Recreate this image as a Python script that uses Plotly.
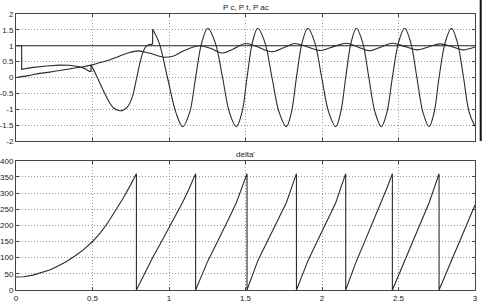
import plotly.graph_objects as go

# ---------------- data ----------------
# constant reference power (top panel)
t_const = [0.0, 3.0]
p_const = [1.0, 1.0]

# P ac : pre-fault / fault part (step, then small curve)
t_pac_a = [0.0, 0.037, 0.037, 0.10, 0.20, 0.285, 0.35, 0.416, 0.45, 0.48, 0.49, 0.49]
p_pac_a = [1.0, 1.0, 0.26, 0.31, 0.36, 0.39, 0.385, 0.34, 0.28, 0.19, 0.19, 0.39]

# P ac : after first switching (0.49 .. 0.893)
t_pac_b = [0.49, 0.52, 0.55, 0.58, 0.61, 0.64, 0.67, 0.70, 0.73, 0.76, 0.787,
           0.81, 0.83, 0.85, 0.87, 0.893]
p_pac_b = [0.39, 0.12, -0.20, -0.50, -0.78, -0.97, -1.04, -1.03, -0.92, -0.62, -0.05,
           0.45, 0.80, 0.98, 1.03, 1.05]

# P ac : large swings after 0.893
t_pac_c = [0.893, 0.935, 0.99, 1.045, 1.09, 1.135, 1.174,
           1.214, 1.254, 1.302, 1.35, 1.395, 1.44, 1.477, 1.51,
           1.545, 1.58, 1.627, 1.673, 1.72, 1.767, 1.80, 1.833,
           1.87, 1.908, 1.953, 1.998, 2.044, 2.09, 2.122, 2.155,
           2.19, 2.225, 2.266, 2.306, 2.347, 2.388, 2.424, 2.46,
           2.50, 2.54, 2.58, 2.62, 2.66, 2.70, 2.733, 2.765,
           2.805, 2.846, 2.885, 2.925, 2.962, 3.0]
p_pac_c = [1.52, 1.10, 0.0, -1.10, -1.55, -1.10, 0.0,
           1.10, 1.55, 1.10, 0.0, -1.10, -1.55, -1.10, 0.0,
           1.10, 1.55, 1.10, 0.0, -1.10, -1.55, -1.10, 0.0,
           1.10, 1.55, 1.10, 0.0, -1.10, -1.55, -1.10, 0.0,
           1.10, 1.55, 1.10, 0.0, -1.10, -1.55, -1.10, 0.0,
           1.10, 1.55, 1.10, 0.0, -1.10, -1.55, -1.10, 0.0,
           1.10, 1.55, 1.10, 0.0, -1.10, -1.54]

# P t : slowly oscillating power
t_pt = [0.0, 0.08, 0.155, 0.22, 0.285, 0.36, 0.44, 0.49, 0.55, 0.61, 0.67, 0.73,
        0.80, 0.87, 0.93, 0.975, 1.03, 1.10, 1.20, 1.27, 1.35, 1.42, 1.50, 1.58,
        1.67, 1.75, 1.82, 1.90, 1.99, 2.08, 2.16, 2.23, 2.31, 2.39, 2.46, 2.54,
        2.62, 2.70, 2.77, 2.85, 2.92, 3.0]
p_pt = [0.0, 0.06, 0.13, 0.17, 0.22, 0.28, 0.34, 0.39, 0.47, 0.55, 0.66, 0.77,
        0.84, 0.77, 0.68, 0.64, 0.68, 0.85, 1.00, 0.92, 0.77, 0.90, 1.07, 0.96,
        0.81, 0.94, 1.07, 0.97, 0.85, 0.98, 1.08, 0.97, 0.84, 0.97, 1.08, 0.98,
        0.87, 0.97, 1.06, 0.97, 0.87, 0.96]

# delta' (degrees), bottom panel
t_delta = [0.0, 0.05, 0.11, 0.165, 0.22, 0.275, 0.33, 0.385, 0.44, 0.50, 0.55,
           0.60, 0.65, 0.70, 0.75, 0.787,
           0.787, 0.84, 0.895, 0.94, 1.0, 1.05, 1.09, 1.13, 1.174,
           1.174, 1.214, 1.254, 1.302, 1.35, 1.395, 1.44, 1.477, 1.51,
           1.51, 1.545, 1.58, 1.627, 1.673, 1.72, 1.767, 1.80, 1.833,
           1.833, 1.87, 1.908, 1.953, 1.998, 2.044, 2.09, 2.122, 2.155,
           2.155, 2.19, 2.225, 2.266, 2.306, 2.347, 2.388, 2.424, 2.46,
           2.46, 2.50, 2.54, 2.58, 2.62, 2.66, 2.70, 2.733, 2.765,
           2.765, 2.805, 2.846, 2.885, 2.925, 2.962, 3.0]
d_delta = [40, 41, 46, 53, 62, 74, 88, 105, 124, 150, 176,
           208, 245, 284, 326, 360,
           0, 52, 102, 140, 192, 236, 272, 312, 360,
           0, 45, 90, 135, 180, 225, 270, 315, 360,
           0, 45, 90, 135, 180, 225, 270, 315, 360,
           0, 45, 90, 135, 180, 225, 270, 315, 360,
           0, 45, 90, 135, 180, 225, 270, 315, 360,
           0, 45, 90, 135, 180, 225, 270, 315, 360,
           0, 45, 90, 135, 180, 225, 263]

# tick labels
x_tickvals = [0, 0.5, 1, 1.5, 2, 2.5, 3]
x_ticktext = ["0", "0.5", "1", "1.5", "2", "2.5", "3"]
p_tickvals = [-2, -1.5, -1, -0.5, 0, 0.5, 1, 1.5, 2]
p_ticktext = ["-2", "-1.5", "-1", "-0.5", "0", "0.5", "1", "1.5", "2"]
d_tickvals = [0, 50, 100, 150, 200, 250, 300, 350, 400]
d_ticktext = ["0", "50", "100", "150", "200", "250", "300", "350", "400"]

# ---------------- figure ----------------
LC = "#2b2b2b"
LW = 1.1

fig = go.Figure()

def add(x, y, xa, ya, shape="linear"):
    fig.add_trace(go.Scatter(x=x, y=y, mode="lines", xaxis=xa, yaxis=ya,
                             line=dict(color=LC, width=LW, shape=shape,
                                       smoothing=1.0 if shape == "spline" else None),
                             hoverinfo="skip", showlegend=False))

add(t_const, p_const, "x", "y")
add(t_pac_a, p_pac_a, "x", "y")
add(t_pac_b, p_pac_b, "x", "y", "spline")
add([t_pac_b[-1], t_pac_c[0]], [p_pac_b[-1], p_pac_c[0]], "x", "y")
add(t_pac_c, p_pac_c, "x", "y", "spline")
add(t_pt, p_pt, "x", "y", "spline")
add(t_delta, d_delta, "x2", "y2")

W, H = 482, 302
ML, MR, MT, MB = 16.3, 6.7, 14, 12
ph = H - MT - MB
pw = W - ML - MR
top_lo = 1 - (141 - MT) / ph
bot_hi = (290 - 160.7) / ph

axcommon = dict(showline=True, linecolor="#444", linewidth=1, mirror="ticks",
                ticks="inside", ticklen=3, tickcolor="#444", tickwidth=1,
                showgrid=True, gridcolor="#9a9a9a", griddash="1px,2px", gridwidth=1,
                zeroline=False, automargin=False,
                tickfont=dict(family="Liberation Sans", size=8, color="#222"))

fig.update_layout(
    width=W, height=H,
    margin=dict(l=ML, r=MR, t=MT, b=MB, pad=0, autoexpand=False),
    paper_bgcolor="white", plot_bgcolor="white",
    font=dict(family="Liberation Sans", size=8, color="#222"),
    xaxis=dict(domain=[0, 1], range=[0, 3], anchor="y", tickvals=x_tickvals,
               showticklabels=False, **axcommon),
    yaxis=dict(domain=[top_lo, 1], range=[-2, 2], anchor="x", tickvals=p_tickvals,
               ticktext=p_ticktext, **axcommon),
    xaxis2=dict(domain=[0, 1], range=[0, 3], anchor="y2", tickvals=x_tickvals,
                ticktext=x_ticktext, **axcommon),
    yaxis2=dict(domain=[0, bot_hi], range=[0, 400], anchor="x2", tickvals=d_tickvals,
                ticktext=d_ticktext, **axcommon),
    annotations=[
        dict(text="P c, P t, P ac", x=0.5, xref="paper", y=(290 - 7) / ph, yref="paper",
             showarrow=False, font=dict(family="Liberation Sans", size=8, color="#222"),
             xanchor="center", yanchor="middle"),
        dict(text="delta'", x=0.5, xref="paper", y=(290 - 154) / ph, yref="paper",
             showarrow=False, font=dict(family="Liberation Sans", size=8, color="#222"),
             xanchor="center", yanchor="middle"),
    ],
    shapes=[
        dict(type="line", xref="paper", yref="paper",
             x0=(481 - ML) / pw, x1=(481 - ML) / pw,
             y0=(290 - 141) / ph, y1=(290 - 0) / ph,
             line=dict(color="#111", width=2)),
    ],
)

fig.write_html("out.html")
